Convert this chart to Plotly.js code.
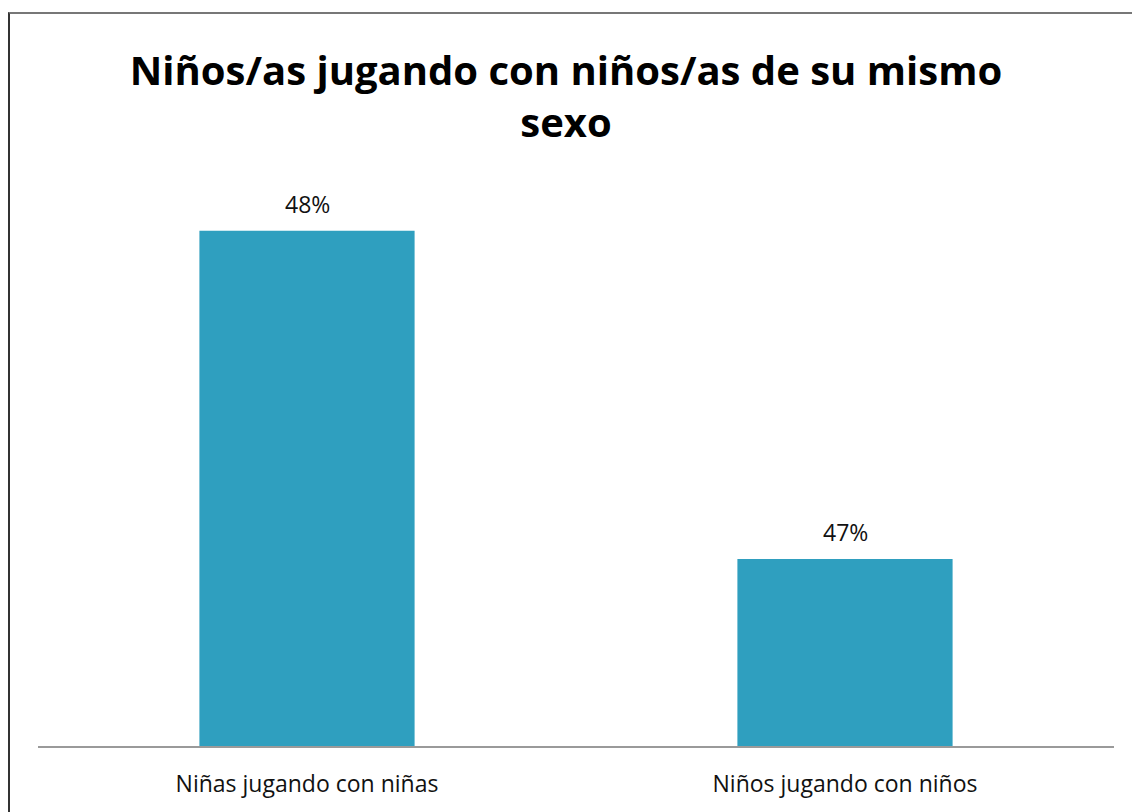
<!DOCTYPE html>
<html>
<head>
<meta charset="utf-8">
<script src="https://cdn.plot.ly/plotly-3.0.1.min.js"></script>
<style>
    html, body { margin: 0; padding: 0; background: #fff; }
    #wrap { position: relative; width: 1132px; height: 812px; overflow: hidden; }
    #chart { width: 1132px; height: 812px; }
    #frame {
        position: absolute; left: 8px; top: 12px; width: 1200px; height: 900px;
        border-left: 2px solid #333; border-top: 2px solid #777;
        pointer-events: none;
    }
</style>
</head>
<body>
<div id="wrap">
    <div id="chart"></div>
    <div id="frame"></div>
</div>
<script>
// chart data
const categories = ["Niñas jugando con niñas", "Niños jugando con niños"];
const shares = [0.48, 0.47];
const chartTitle = "Niños/as jugando con niños/as de su mismo<br>sexo";

const el = document.getElementById("chart");
const font = "Open Sans, sans-serif";

const trace = {
    x: categories,
    y: shares,
    type: "bar",
    width: 0.4,
    marker: { color: "#2F9FBF" },
    hoverinfo: "skip"
};

// value labels above the bars
const labels = categories.map((c, i) => ({
    x: c,
    y: shares[i],
    xref: "x",
    yref: "y",
    text: Math.round(shares[i] * 100) + "%",
    showarrow: false,
    yanchor: "bottom",
    yshift: 9,
    font: { family: font, size: 23, color: "#111" }
}));

const layout = {
    width: 1132,
    height: 812,
    margin: { l: 38, r: 18, t: 180, b: 66 },
    paper_bgcolor: "#fff",
    plot_bgcolor: "#fff",
    showlegend: false,
    title: {
        text: chartTitle,
        font: { family: font, size: 40, color: "#000", weight: 700 },
        x: 0.5, xanchor: "center",
        y: 0.895, yanchor: "middle"
    },
    annotations: labels,
    xaxis: {
        showline: true,
        linecolor: "#9a9a9a",
        linewidth: 2,
        ticks: "",
        tickfont: { family: font, size: 23, color: "#111" },
        ticklabelstandoff: 16,
        fixedrange: true
    },
    yaxis: {
        visible: false,
        range: [0.4643, 0.48155],
        showgrid: false,
        zeroline: false,
        fixedrange: true
    }
};

Plotly.newPlot(el, [trace], layout, { displayModeBar: false, staticPlot: true });
</script>
</body>
</html>
